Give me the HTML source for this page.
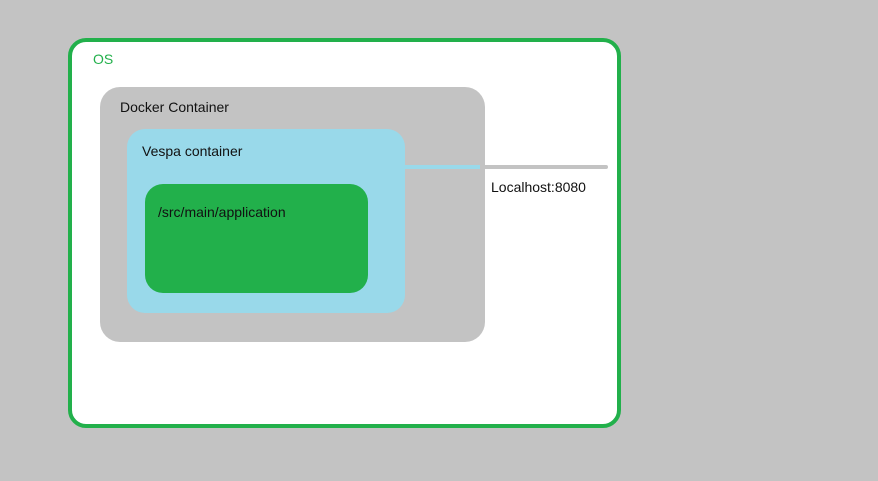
<!DOCTYPE html>
<html><head><style>
body{margin:0;width:878px;height:481px;background:#c3c3c3;position:relative;overflow:hidden;font-family:"Liberation Sans","DejaVu Sans",sans-serif;font-size:14px;color:#111}
div{position:absolute;box-sizing:border-box}
span{position:absolute;white-space:nowrap}
</style></head><body>
<div style="left:68px;top:38px;width:553px;height:390px;background:#fff;border:4px solid #22b04b;border-radius:18px"></div>
<span style="left:93px;top:51px;color:#22b04b">OS</span>
<div style="left:100px;top:87px;width:385px;height:255px;background:#c3c3c3;border-radius:20px"></div>
<span style="left:120px;top:99px">Docker Container</span>
<div style="left:127px;top:129px;width:278px;height:184px;background:#99d9ea;border-radius:18px"></div>
<span style="left:142px;top:143px">Vespa container</span>
<div style="left:145px;top:184px;width:223px;height:109px;background:#22b04b;border-radius:18px"></div>
<span style="left:158px;top:204px">/src/main/application</span>
<div style="left:405px;top:165px;width:75px;height:4px;background:#99d9ea"></div>
<div style="left:480px;top:165px;width:128px;height:4px;background:#c3c3c3;border-radius:2px"></div>
<span style="left:491px;top:179px">Localhost:8080</span>
</body></html>
